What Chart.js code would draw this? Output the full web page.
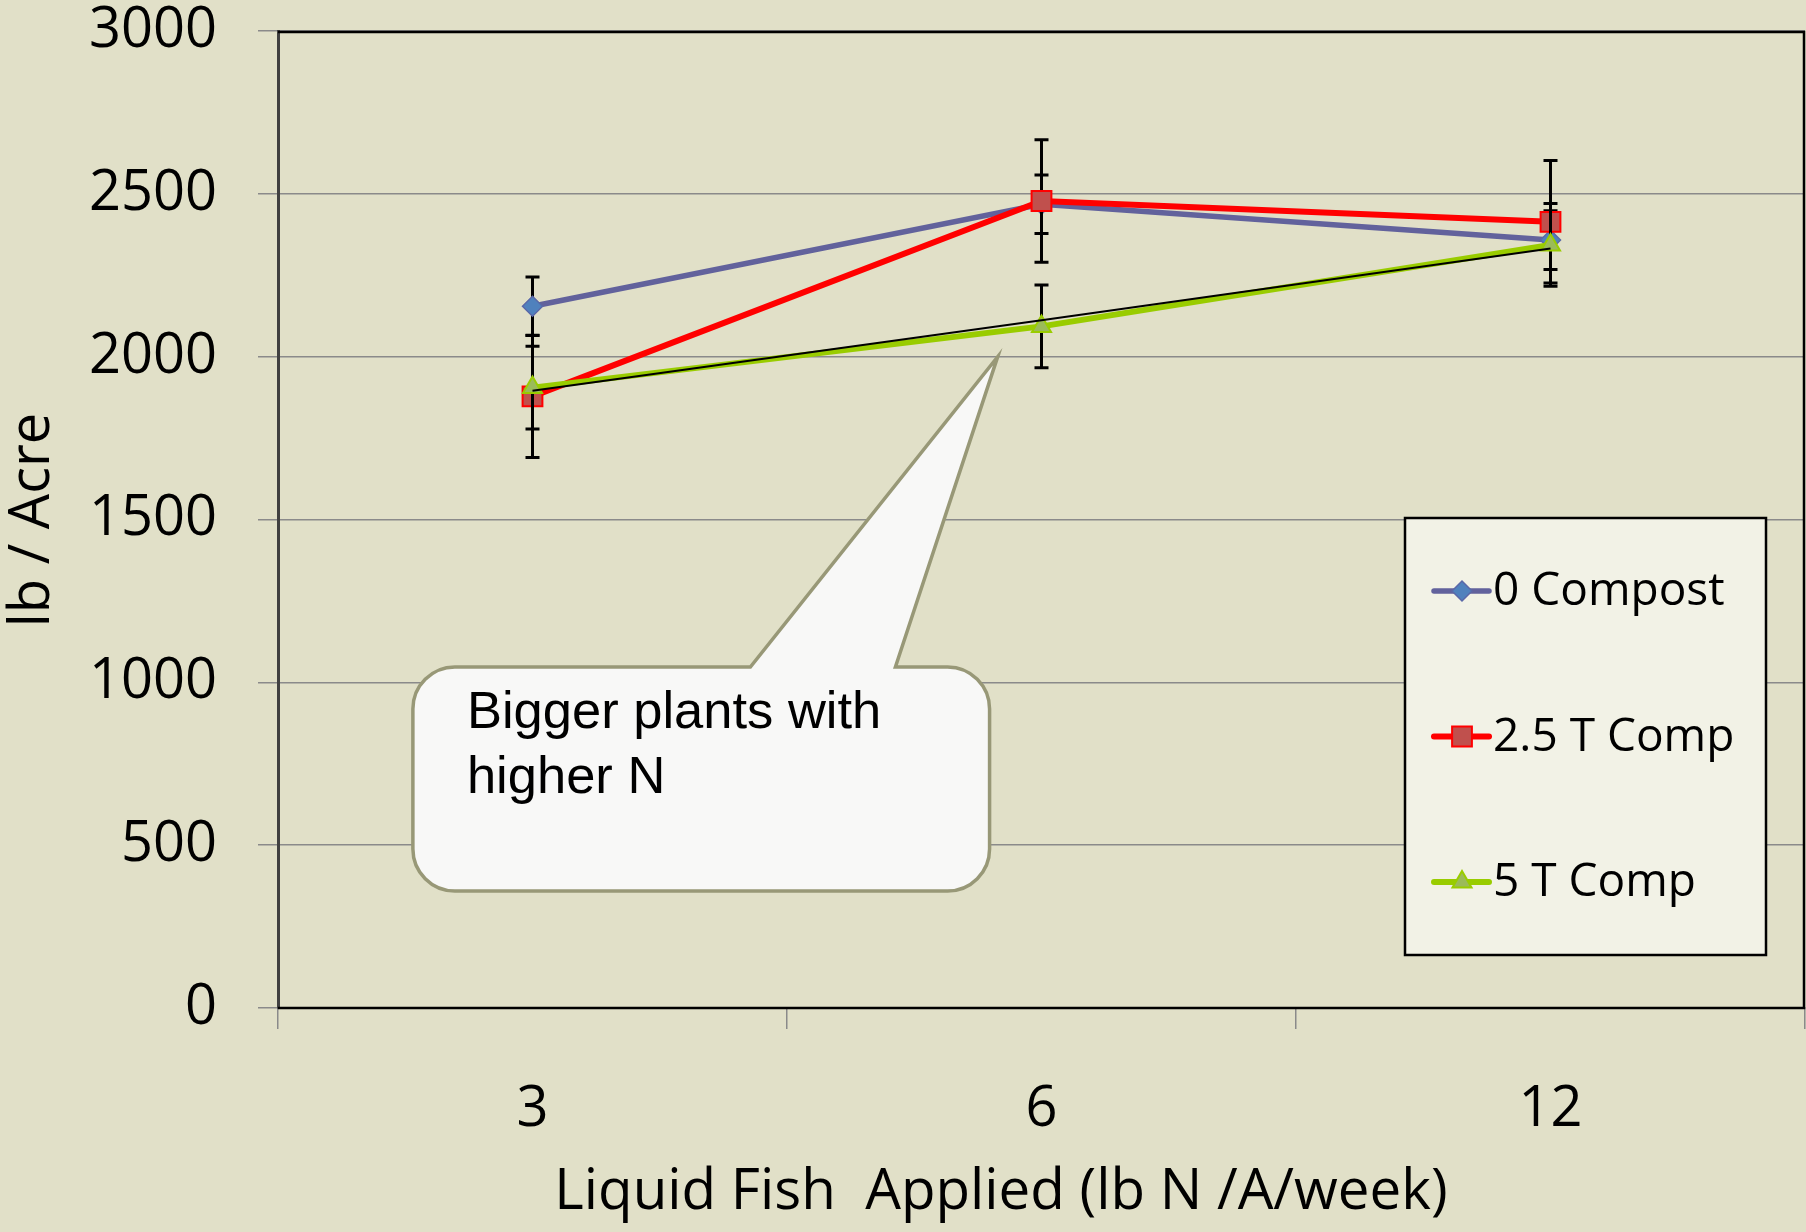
<!DOCTYPE html>
<html>
<head>
  <meta charset="UTF-8"/>
  <title>Liquid Fish Applied</title>
  <style>
    html, body { margin: 0; padding: 0; background: #e1e0c8; overflow: hidden; }
    #wrap { width: 1806px; height: 1232px; }
    canvas { display: block; }
  </style>
  <script src="https://cdn.jsdelivr.net/npm/chart.js"></script>
</head>
<body>
  <div id="wrap"><canvas id="myChart" width="1806" height="1232"></canvas></div>
  <script>
    // values (lb / Acre)
    const categories = ['3', '6', '12'];
    const compost0 = [2155, 2468, 2358];
    const compost0Err = [90, 90, 90];
    const comp25 = [1878, 2478, 2414];
    const comp25Err = [188, 188, 188];
    const comp5 = [1905, 2093, 2343];
    const comp5Err = [127, 127, 127];
    const comp5Trend = [1895, 2112, 2332]; // black trend line over 5 T
    const yMin = 0, yMax = 3000, yStep = 500;

    const xTitle = 'Liquid Fish  Applied (lb N /A/week)';
    const yTitle = 'lb / Acre';
    const calloutLines = ['Bigger plants with', 'higher N'];

    const FONT = "'Open Sans', 'DejaVu Sans', sans-serif";

    // error bars, drawn just before each series so markers sit on top
    const errorBars = {
      id: 'errorBars',
      beforeDatasetDraw(chart, args) {
        const ds = chart.data.datasets[args.index];
        if (!ds.err) return;
        const ctx = chart.ctx, y = chart.scales.y;
        ctx.save();
        ctx.strokeStyle = '#000';
        ctx.lineWidth = 3;
        args.meta.data.forEach((pt, i) => {
          const top = y.getPixelForValue(ds.data[i] + ds.err[i]);
          const bot = y.getPixelForValue(ds.data[i] - ds.err[i]);
          ctx.beginPath();
          ctx.moveTo(pt.x, top); ctx.lineTo(pt.x, bot);
          ctx.moveTo(pt.x - 7, top); ctx.lineTo(pt.x + 7, top);
          ctx.moveTo(pt.x - 7, bot); ctx.lineTo(pt.x + 7, bot);
          ctx.stroke();
        });
        ctx.restore();
      }
    };

    // frame, callout, legend box and axis titles
    const decorations = {
      id: 'decorations',
      afterDatasetsDraw(chart) {
        const ctx = chart.ctx, xs = chart.scales.x, ys = chart.scales.y;
        const a = chart.chartArea;
        // plot border (top, right, bottom)
        ctx.save();
        ctx.strokeStyle = '#000';
        ctx.lineWidth = 2.5;
        ctx.beginPath();
        ctx.moveTo(a.left, a.top + 1); ctx.lineTo(a.right - 1, a.top + 1);
        ctx.lineTo(a.right - 1, a.bottom); ctx.lineTo(a.left, a.bottom);
        ctx.stroke();

        // callout (placed in axis units)
        const X = v => xs.getPixelForValue(v), Y = v => ys.getPixelForValue(v);
        const l = X(-0.235), r = X(0.898), t = Y(1047), b = Y(359), rad = 42;
        ctx.beginPath();
        ctx.moveTo(l + rad, t);
        ctx.lineTo(X(0.428), t);
        ctx.lineTo(X(0.914), Y(2000));
        ctx.lineTo(X(0.713), t);
        ctx.lineTo(r - rad, t);
        ctx.arcTo(r, t, r, t + rad, rad);
        ctx.lineTo(r, b - rad);
        ctx.arcTo(r, b, r - rad, b, rad);
        ctx.lineTo(l + rad, b);
        ctx.arcTo(l, b, l, b - rad, rad);
        ctx.lineTo(l, t + rad);
        ctx.arcTo(l, t, l + rad, t, rad);
        ctx.closePath();
        ctx.fillStyle = '#f8f8f7';
        ctx.fill();
        ctx.strokeStyle = '#989877';
        ctx.lineWidth = 3.5;
        ctx.stroke();
        ctx.fillStyle = '#000';
        ctx.font = "52.5px 'Liberation Sans', Arial, sans-serif";
        ctx.textBaseline = 'alphabetic';
        ctx.textAlign = 'left';
        ctx.fillText(calloutLines[0], l + 54, t + 61);
        ctx.fillText(calloutLines[1], l + 54, t + 126);

        // legend box
        const lx = 1405, ly = 518, lw = 361, lh = 437;
        ctx.fillStyle = '#f2f2e6';
        ctx.fillRect(lx, ly, lw, lh);
        ctx.strokeStyle = '#000';
        ctx.lineWidth = 2.5;
        ctx.strokeRect(lx, ly, lw, lh);
        const items = chart.data.datasets.filter(d => !d.hideInLegend);
        ctx.font = '46px ' + FONT;
        ctx.textBaseline = 'middle';
        items.forEach((d, i) => {
          const cy = 591 + i * 145.5;
          ctx.strokeStyle = d.borderColor;
          ctx.lineWidth = d.borderWidth;
          ctx.lineCap = 'round';
          ctx.beginPath(); ctx.moveTo(1434, cy); ctx.lineTo(1489, cy); ctx.stroke();
          ctx.lineCap = 'butt';
          ctx.fillStyle = d.pointBackgroundColor;
          ctx.strokeStyle = d.pointBorderColor;
          ctx.lineWidth = d.pointBorderWidth;
          Chart.helpers.drawPoint(ctx, {
            pointStyle: d.pointStyle, radius: d.pointRadius, rotation: 0,
            borderWidth: d.pointBorderWidth
          }, 1462, cy);
          ctx.fillStyle = '#000';
          ctx.fillText(d.label, 1493, cy + 1);
        });

        // axis titles
        ctx.font = '56.5px ' + FONT;
        ctx.textAlign = 'center';
        ctx.fillText(xTitle, 1001, 1193);
        ctx.font = '56px ' + FONT;
        ctx.translate(33, 520);
        ctx.rotate(-Math.PI / 2);
        ctx.fillText(yTitle, 0, 0);
        ctx.restore();
      }
    };

    Chart.defaults.font.family = FONT;
    Chart.defaults.color = '#000';

    const ctx = document.getElementById('myChart').getContext('2d');
    const chart = new Chart(ctx, {
      type: 'line',
      data: {
        labels: categories,
        datasets: [
          {
            label: '0 Compost', data: compost0, err: compost0Err, order: 4,
            borderColor: '#62629c', borderWidth: 5.5,
            pointStyle: 'rectRot', pointRadius: 10,
            pointBackgroundColor: '#4f81bd', pointBorderColor: '#5a68a8', pointBorderWidth: 1.5
          },
          {
            label: '2.5 T Comp', data: comp25, err: comp25Err, order: 3,
            borderColor: '#ff0000', borderWidth: 6,
            pointStyle: 'rect', pointRadius: 14,
            pointBackgroundColor: '#c0504d', pointBorderColor: '#ff0000', pointBorderWidth: 2
          },
          {
            label: '5 T Comp', data: comp5, err: comp5Err, order: 2,
            borderColor: '#99cc00', borderWidth: 6,
            pointStyle: 'triangle', pointRadius: 11,
            pointBackgroundColor: '#9bbb59', pointBorderColor: '#99cc00', pointBorderWidth: 2
          },
          {
            label: 'trend', data: comp5Trend, order: 1, hideInLegend: true,
            borderColor: '#000', borderWidth: 2, pointRadius: 0
          }
        ]
      },
      options: {
        responsive: false,
        animation: false,
        events: [],
        devicePixelRatio: 1,
        layout: { autoPadding: false, padding: { top: 31, right: 1, left: 0, bottom: 0 } },
        plugins: { legend: { display: false }, tooltip: { enabled: false } },
        elements: { line: { tension: 0 } },
        scales: {
          x: {
            offset: true,
            grid: { offset: true, drawOnChartArea: false, color: '#8a8a8a', tickLength: 21, lineWidth: 1.5 },
            border: { color: '#777', width: 2 },
            ticks: { font: { size: 56 }, padding: 47, maxRotation: 0 },
            afterFit(s) { s.height = 224; s.paddingLeft = 0; s.paddingRight = 0; }
          },
          y: {
            min: yMin, max: yMax,
            grid: { color: '#8a8a8a', lineWidth: 1.5, tickLength: 20 },
            border: { color: '#404040', width: 3 },
            ticks: { stepSize: yStep, font: { size: 56 }, padding: 41, callback: v => String(v) },
            afterFit(s) { s.width = 278; s.paddingTop = 0; s.paddingBottom = 0; }
          }
        }
      },
      plugins: [errorBars, decorations]
    });
  </script>
</body>
</html>
